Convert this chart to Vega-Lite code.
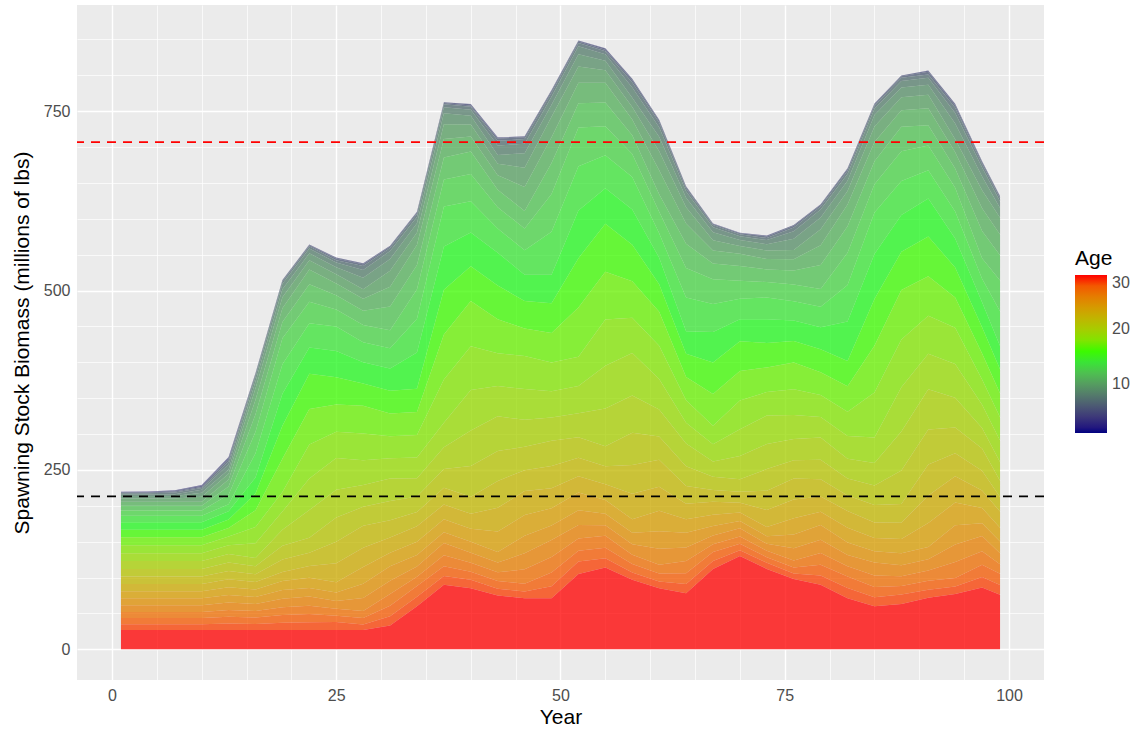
{
"$schema": "https://vega.github.io/schema/vega-lite/v6.json",
"width": 967, "height": 675,
"autosize": {"type": "none"},
"padding": {"left": 77, "top": 5, "right": 90, "bottom": 56},
"background": "white",
"config": {
 "view": {"fill": "#EBEBEB", "stroke": null},
 "font": "Liberation Sans",
 "axis": {"domain": false, "grid": true, "gridColor": "white", "tickSize": 4, "tickColor": "#333333", "labelFontSize": 16, "labelColor": "#4D4D4D", "titleFontSize": 21, "titleFontWeight": "normal", "titleColor": "black", "labelPadding": 3},
 "axisX": {"values": [0,12.5,25,37.5,50,62.5,75,87.5,100], "labelExpr": "datum.value % 25 === 0 ? format(datum.value, 'd') : ''", "gridWidth": {"condition": {"test": "datum.value % 25 === 0", "value": 1.4}, "value": 0.7}, "tickOpacity": {"condition": {"test": "datum.value % 25 === 0", "value": 1}, "value": 0}, "titlePadding": 3},
 "axisY": {"values": [0,125,250,375,500,625,750,875], "labelExpr": "datum.value % 250 === 0 ? format(datum.value, 'd') : ''", "gridWidth": {"condition": {"test": "datum.value % 250 === 0", "value": 1.4}, "value": 0.7}, "tickOpacity": {"condition": {"test": "datum.value % 250 === 0", "value": 1}, "value": 0}, "titlePadding": 11}
},
"datasets": {"ssb": [
{"yr":1,"age":1,"ssb":0},{"yr":1,"age":2,"ssb":0},{"yr":1,"age":3,"ssb":0.1},{"yr":1,"age":4,"ssb":0.3},{"yr":1,"age":5,"ssb":0.6},{"yr":1,"age":6,"ssb":1},{"yr":1,"age":7,"ssb":1.5},{"yr":1,"age":8,"ssb":2.5},{"yr":1,"age":9,"ssb":3.5},{"yr":1,"age":10,"ssb":4.5},{"yr":1,"age":11,"ssb":5.5},{"yr":1,"age":12,"ssb":6.5},{"yr":1,"age":13,"ssb":7.5},{"yr":1,"age":14,"ssb":9},{"yr":1,"age":15,"ssb":10.5},{"yr":1,"age":16,"ssb":10.5},{"yr":1,"age":17,"ssb":11},{"yr":1,"age":18,"ssb":11},{"yr":1,"age":19,"ssb":11},{"yr":1,"age":20,"ssb":11},{"yr":1,"age":21,"ssb":10.5},{"yr":1,"age":22,"ssb":10.5},{"yr":1,"age":23,"ssb":10},{"yr":1,"age":24,"ssb":10},{"yr":1,"age":25,"ssb":9.5},{"yr":1,"age":26,"ssb":9.5},{"yr":1,"age":27,"ssb":8.5},{"yr":1,"age":28,"ssb":8.5},{"yr":1,"age":29,"ssb":8},{"yr":1,"age":30,"ssb":27},
{"yr":4,"age":1,"ssb":0},{"yr":4,"age":2,"ssb":0},{"yr":4,"age":3,"ssb":0.2},{"yr":4,"age":4,"ssb":0.5},{"yr":4,"age":5,"ssb":0.6},{"yr":4,"age":6,"ssb":1},{"yr":4,"age":7,"ssb":1.5},{"yr":4,"age":8,"ssb":2.5},{"yr":4,"age":9,"ssb":3.5},{"yr":4,"age":10,"ssb":4.5},{"yr":4,"age":11,"ssb":5.5},{"yr":4,"age":12,"ssb":6.5},{"yr":4,"age":13,"ssb":7.5},{"yr":4,"age":14,"ssb":9},{"yr":4,"age":15,"ssb":10.5},{"yr":4,"age":16,"ssb":10.5},{"yr":4,"age":17,"ssb":11},{"yr":4,"age":18,"ssb":11},{"yr":4,"age":19,"ssb":11},{"yr":4,"age":20,"ssb":11},{"yr":4,"age":21,"ssb":10.5},{"yr":4,"age":22,"ssb":10.5},{"yr":4,"age":23,"ssb":10},{"yr":4,"age":24,"ssb":10},{"yr":4,"age":25,"ssb":9.5},{"yr":4,"age":26,"ssb":9.5},{"yr":4,"age":27,"ssb":8.5},{"yr":4,"age":28,"ssb":8.5},{"yr":4,"age":29,"ssb":8},{"yr":4,"age":30,"ssb":27},
{"yr":7,"age":1,"ssb":0},{"yr":7,"age":2,"ssb":0},{"yr":7,"age":3,"ssb":0.2},{"yr":7,"age":4,"ssb":0.5},{"yr":7,"age":5,"ssb":1.0},{"yr":7,"age":6,"ssb":1.6},{"yr":7,"age":7,"ssb":2.4},{"yr":7,"age":8,"ssb":2.5},{"yr":7,"age":9,"ssb":3.5},{"yr":7,"age":10,"ssb":4.5},{"yr":7,"age":11,"ssb":5.5},{"yr":7,"age":12,"ssb":6.5},{"yr":7,"age":13,"ssb":7.5},{"yr":7,"age":14,"ssb":9},{"yr":7,"age":15,"ssb":10.5},{"yr":7,"age":16,"ssb":10.5},{"yr":7,"age":17,"ssb":11},{"yr":7,"age":18,"ssb":11},{"yr":7,"age":19,"ssb":11},{"yr":7,"age":20,"ssb":11},{"yr":7,"age":21,"ssb":10.5},{"yr":7,"age":22,"ssb":10.5},{"yr":7,"age":23,"ssb":10},{"yr":7,"age":24,"ssb":10},{"yr":7,"age":25,"ssb":9.5},{"yr":7,"age":26,"ssb":9.5},{"yr":7,"age":27,"ssb":8.5},{"yr":7,"age":28,"ssb":8.5},{"yr":7,"age":29,"ssb":8},{"yr":7,"age":30,"ssb":27},
{"yr":10,"age":1,"ssb":0},{"yr":10,"age":2,"ssb":0},{"yr":10,"age":3,"ssb":0.3},{"yr":10,"age":4,"ssb":0.8},{"yr":10,"age":5,"ssb":1.6},{"yr":10,"age":6,"ssb":1.6},{"yr":10,"age":7,"ssb":2.4},{"yr":10,"age":8,"ssb":4.0},{"yr":10,"age":9,"ssb":5.6},{"yr":10,"age":10,"ssb":7.2},{"yr":10,"age":11,"ssb":5.5},{"yr":10,"age":12,"ssb":6.5},{"yr":10,"age":13,"ssb":7.5},{"yr":10,"age":14,"ssb":9},{"yr":10,"age":15,"ssb":10.5},{"yr":10,"age":16,"ssb":10.5},{"yr":10,"age":17,"ssb":11},{"yr":10,"age":18,"ssb":11},{"yr":10,"age":19,"ssb":11},{"yr":10,"age":20,"ssb":11},{"yr":10,"age":21,"ssb":10.5},{"yr":10,"age":22,"ssb":10.5},{"yr":10,"age":23,"ssb":10},{"yr":10,"age":24,"ssb":10},{"yr":10,"age":25,"ssb":9.5},{"yr":10,"age":26,"ssb":9.5},{"yr":10,"age":27,"ssb":8.5},{"yr":10,"age":28,"ssb":8.5},{"yr":10,"age":29,"ssb":8},{"yr":10,"age":30,"ssb":27},
{"yr":13,"age":1,"ssb":0},{"yr":13,"age":2,"ssb":0},{"yr":13,"age":3,"ssb":0.2},{"yr":13,"age":4,"ssb":0.9},{"yr":13,"age":5,"ssb":1.7},{"yr":13,"age":6,"ssb":2.9},{"yr":13,"age":7,"ssb":4.3},{"yr":13,"age":8,"ssb":7.2},{"yr":13,"age":9,"ssb":6.2},{"yr":13,"age":10,"ssb":7.9},{"yr":13,"age":11,"ssb":9.7},{"yr":13,"age":12,"ssb":11.4},{"yr":13,"age":13,"ssb":13.2},{"yr":13,"age":14,"ssb":9.9},{"yr":13,"age":15,"ssb":11.6},{"yr":13,"age":16,"ssb":11.6},{"yr":13,"age":17,"ssb":12.1},{"yr":13,"age":18,"ssb":12.1},{"yr":13,"age":19,"ssb":12.1},{"yr":13,"age":20,"ssb":12.1},{"yr":13,"age":21,"ssb":11.6},{"yr":13,"age":22,"ssb":11.6},{"yr":13,"age":23,"ssb":11.0},{"yr":13,"age":24,"ssb":11.0},{"yr":13,"age":25,"ssb":10.5},{"yr":13,"age":26,"ssb":10.5},{"yr":13,"age":27,"ssb":9.4},{"yr":13,"age":28,"ssb":9.4},{"yr":13,"age":29,"ssb":8.8},{"yr":13,"age":30,"ssb":27},
{"yr":16,"age":1,"ssb":0},{"yr":16,"age":2,"ssb":0},{"yr":16,"age":3,"ssb":0},{"yr":16,"age":4,"ssb":0.1},{"yr":16,"age":5,"ssb":0.7},{"yr":16,"age":6,"ssb":1.5},{"yr":16,"age":7,"ssb":3.2},{"yr":16,"age":8,"ssb":6.2},{"yr":16,"age":9,"ssb":9.4},{"yr":16,"age":10,"ssb":16.2},{"yr":16,"age":11,"ssb":20.3},{"yr":16,"age":12,"ssb":24.4},{"yr":16,"age":13,"ssb":29.8},{"yr":16,"age":14,"ssb":33.8},{"yr":16,"age":15,"ssb":22.5},{"yr":16,"age":16,"ssb":23.3},{"yr":16,"age":17,"ssb":23.3},{"yr":16,"age":18,"ssb":22.5},{"yr":16,"age":19,"ssb":20.8},{"yr":16,"age":20,"ssb":11.5},{"yr":16,"age":21,"ssb":10.9},{"yr":16,"age":22,"ssb":10.9},{"yr":16,"age":23,"ssb":10.4},{"yr":16,"age":24,"ssb":10.4},{"yr":16,"age":25,"ssb":9.9},{"yr":16,"age":26,"ssb":9.9},{"yr":16,"age":27,"ssb":8.9},{"yr":16,"age":28,"ssb":8.9},{"yr":16,"age":29,"ssb":8.4},{"yr":16,"age":30,"ssb":27},
{"yr":19,"age":1,"ssb":0},{"yr":19,"age":2,"ssb":0},{"yr":19,"age":3,"ssb":0},{"yr":19,"age":4,"ssb":0.2},{"yr":19,"age":5,"ssb":0.6},{"yr":19,"age":6,"ssb":1.5},{"yr":19,"age":7,"ssb":3.0},{"yr":19,"age":8,"ssb":7.6},{"yr":19,"age":9,"ssb":11.4},{"yr":19,"age":10,"ssb":15.2},{"yr":19,"age":11,"ssb":19.0},{"yr":19,"age":12,"ssb":22.8},{"yr":19,"age":13,"ssb":36.2},{"yr":19,"age":14,"ssb":41.2},{"yr":19,"age":15,"ssb":44.5},{"yr":19,"age":16,"ssb":46.1},{"yr":19,"age":17,"ssb":46.1},{"yr":19,"age":18,"ssb":27.4},{"yr":19,"age":19,"ssb":25.4},{"yr":19,"age":20,"ssb":22.3},{"yr":19,"age":21,"ssb":19.3},{"yr":19,"age":22,"ssb":17.3},{"yr":19,"age":23,"ssb":12.6},{"yr":19,"age":24,"ssb":12.6},{"yr":19,"age":25,"ssb":12.0},{"yr":19,"age":26,"ssb":12.0},{"yr":19,"age":27,"ssb":10.7},{"yr":19,"age":28,"ssb":10.7},{"yr":19,"age":29,"ssb":10.1},{"yr":19,"age":30,"ssb":27},
{"yr":22,"age":1,"ssb":0},{"yr":22,"age":2,"ssb":0},{"yr":22,"age":3,"ssb":0},{"yr":22,"age":4,"ssb":0.2},{"yr":22,"age":5,"ssb":0.6},{"yr":22,"age":6,"ssb":1.5},{"yr":22,"age":7,"ssb":3.3},{"yr":22,"age":8,"ssb":6.5},{"yr":22,"age":9,"ssb":9.8},{"yr":22,"age":10,"ssb":13.0},{"yr":22,"age":11,"ssb":20.4},{"yr":22,"age":12,"ssb":24.4},{"yr":22,"age":13,"ssb":29.8},{"yr":22,"age":14,"ssb":33.9},{"yr":22,"age":15,"ssb":36.6},{"yr":22,"age":16,"ssb":49.3},{"yr":22,"age":17,"ssb":49.3},{"yr":22,"age":18,"ssb":47.5},{"yr":22,"age":19,"ssb":44.0},{"yr":22,"age":20,"ssb":38.7},{"yr":22,"age":21,"ssb":20.7},{"yr":22,"age":22,"ssb":18.5},{"yr":22,"age":23,"ssb":16.3},{"yr":22,"age":24,"ssb":14.2},{"yr":22,"age":25,"ssb":12.0},{"yr":22,"age":26,"ssb":12.8},{"yr":22,"age":27,"ssb":11.5},{"yr":22,"age":28,"ssb":11.5},{"yr":22,"age":29,"ssb":10.8},{"yr":22,"age":30,"ssb":27},
{"yr":25,"age":1,"ssb":0},{"yr":25,"age":2,"ssb":0},{"yr":25,"age":3,"ssb":0},{"yr":25,"age":4,"ssb":0.3},{"yr":25,"age":5,"ssb":1.0},{"yr":25,"age":6,"ssb":2.4},{"yr":25,"age":7,"ssb":3.3},{"yr":25,"age":8,"ssb":6.5},{"yr":25,"age":9,"ssb":9.8},{"yr":25,"age":10,"ssb":13.0},{"yr":25,"age":11,"ssb":16.4},{"yr":25,"age":12,"ssb":19.6},{"yr":25,"age":13,"ssb":23.9},{"yr":25,"age":14,"ssb":33.9},{"yr":25,"age":15,"ssb":36.6},{"yr":25,"age":16,"ssb":38.0},{"yr":25,"age":17,"ssb":38.0},{"yr":25,"age":18,"ssb":36.6},{"yr":25,"age":19,"ssb":44.2},{"yr":25,"age":20,"ssb":38.9},{"yr":25,"age":21,"ssb":33.6},{"yr":25,"age":22,"ssb":30.1},{"yr":25,"age":23,"ssb":26.5},{"yr":25,"age":24,"ssb":14.1},{"yr":25,"age":25,"ssb":12.0},{"yr":25,"age":26,"ssb":10.9},{"yr":25,"age":27,"ssb":9.8},{"yr":25,"age":28,"ssb":8.7},{"yr":25,"age":29,"ssb":10.9},{"yr":25,"age":30,"ssb":27},
{"yr":28,"age":1,"ssb":0},{"yr":28,"age":2,"ssb":0},{"yr":28,"age":3,"ssb":0},{"yr":28,"age":4,"ssb":0.3},{"yr":28,"age":5,"ssb":1.1},{"yr":28,"age":6,"ssb":2.5},{"yr":28,"age":7,"ssb":5.4},{"yr":28,"age":8,"ssb":10.8},{"yr":28,"age":9,"ssb":16.1},{"yr":28,"age":10,"ssb":13.2},{"yr":28,"age":11,"ssb":16.6},{"yr":28,"age":12,"ssb":19.9},{"yr":28,"age":13,"ssb":24.3},{"yr":28,"age":14,"ssb":27.6},{"yr":28,"age":15,"ssb":29.8},{"yr":28,"age":16,"ssb":31.0},{"yr":28,"age":17,"ssb":38.6},{"yr":28,"age":18,"ssb":37.3},{"yr":28,"age":19,"ssb":34.6},{"yr":28,"age":20,"ssb":30.4},{"yr":28,"age":21,"ssb":26.3},{"yr":28,"age":22,"ssb":30.5},{"yr":28,"age":23,"ssb":27.0},{"yr":28,"age":24,"ssb":23.4},{"yr":28,"age":25,"ssb":19.8},{"yr":28,"age":26,"ssb":18.0},{"yr":28,"age":27,"ssb":9.9},{"yr":28,"age":28,"ssb":8.9},{"yr":28,"age":29,"ssb":7.7},{"yr":28,"age":30,"ssb":27},
{"yr":31,"age":1,"ssb":0},{"yr":31,"age":2,"ssb":0},{"yr":31,"age":3,"ssb":0},{"yr":31,"age":4,"ssb":0.3},{"yr":31,"age":5,"ssb":0.9},{"yr":31,"age":6,"ssb":2.0},{"yr":31,"age":7,"ssb":4.2},{"yr":31,"age":8,"ssb":11.1},{"yr":31,"age":9,"ssb":16.5},{"yr":31,"age":10,"ssb":22.1},{"yr":31,"age":11,"ssb":27.6},{"yr":31,"age":12,"ssb":33.2},{"yr":31,"age":13,"ssb":25.0},{"yr":31,"age":14,"ssb":28.4},{"yr":31,"age":15,"ssb":30.7},{"yr":31,"age":16,"ssb":31.7},{"yr":31,"age":17,"ssb":31.7},{"yr":31,"age":18,"ssb":30.7},{"yr":31,"age":19,"ssb":28.4},{"yr":31,"age":20,"ssb":31.3},{"yr":31,"age":21,"ssb":26.9},{"yr":31,"age":22,"ssb":24.1},{"yr":31,"age":23,"ssb":21.3},{"yr":31,"age":24,"ssb":18.5},{"yr":31,"age":25,"ssb":20.3},{"yr":31,"age":26,"ssb":18.5},{"yr":31,"age":27,"ssb":16.5},{"yr":31,"age":28,"ssb":14.7},{"yr":31,"age":29,"ssb":12.9},{"yr":31,"age":30,"ssb":33},
{"yr":34,"age":1,"ssb":0},{"yr":34,"age":2,"ssb":0},{"yr":34,"age":3,"ssb":0},{"yr":34,"age":4,"ssb":0.2},{"yr":34,"age":5,"ssb":0.7},{"yr":34,"age":6,"ssb":2.0},{"yr":34,"age":7,"ssb":4.3},{"yr":34,"age":8,"ssb":8.7},{"yr":34,"age":9,"ssb":12.9},{"yr":34,"age":10,"ssb":17.3},{"yr":34,"age":11,"ssb":28.1},{"yr":34,"age":12,"ssb":33.7},{"yr":34,"age":13,"ssb":41.2},{"yr":34,"age":14,"ssb":46.9},{"yr":34,"age":15,"ssb":50.6},{"yr":34,"age":16,"ssb":32.3},{"yr":34,"age":17,"ssb":32.3},{"yr":34,"age":18,"ssb":31.2},{"yr":34,"age":19,"ssb":28.9},{"yr":34,"age":20,"ssb":25.4},{"yr":34,"age":21,"ssb":21.9},{"yr":34,"age":22,"ssb":19.6},{"yr":34,"age":23,"ssb":21.6},{"yr":34,"age":24,"ssb":18.7},{"yr":34,"age":25,"ssb":15.9},{"yr":34,"age":26,"ssb":14.4},{"yr":34,"age":27,"ssb":12.9},{"yr":34,"age":28,"ssb":15.0},{"yr":34,"age":29,"ssb":13.1},{"yr":34,"age":30,"ssb":60},
{"yr":37,"age":1,"ssb":0},{"yr":37,"age":2,"ssb":0},{"yr":37,"age":3,"ssb":0},{"yr":37,"age":4,"ssb":0.3},{"yr":37,"age":5,"ssb":0.8},{"yr":37,"age":6,"ssb":1.9},{"yr":37,"age":7,"ssb":4.1},{"yr":37,"age":8,"ssb":8.3},{"yr":37,"age":9,"ssb":15.4},{"yr":37,"age":10,"ssb":20.5},{"yr":37,"age":11,"ssb":25.7},{"yr":37,"age":12,"ssb":30.9},{"yr":37,"age":13,"ssb":37.6},{"yr":37,"age":14,"ssb":55.8},{"yr":37,"age":15,"ssb":60.3},{"yr":37,"age":16,"ssb":62.4},{"yr":37,"age":17,"ssb":62.4},{"yr":37,"age":18,"ssb":60.3},{"yr":37,"age":19,"ssb":34.4},{"yr":37,"age":20,"ssb":30.3},{"yr":37,"age":21,"ssb":26.1},{"yr":37,"age":22,"ssb":23.4},{"yr":37,"age":23,"ssb":20.6},{"yr":37,"age":24,"ssb":17.8},{"yr":37,"age":25,"ssb":15.1},{"yr":37,"age":26,"ssb":17.1},{"yr":37,"age":27,"ssb":15.4},{"yr":37,"age":28,"ssb":13.7},{"yr":37,"age":29,"ssb":12.0},{"yr":37,"age":30,"ssb":90},
{"yr":40,"age":1,"ssb":0},{"yr":40,"age":2,"ssb":0},{"yr":40,"age":3,"ssb":0},{"yr":40,"age":4,"ssb":0.4},{"yr":40,"age":5,"ssb":1.4},{"yr":40,"age":6,"ssb":1.9},{"yr":40,"age":7,"ssb":4.1},{"yr":40,"age":8,"ssb":8.3},{"yr":40,"age":9,"ssb":12.5},{"yr":40,"age":10,"ssb":16.7},{"yr":40,"age":11,"ssb":20.8},{"yr":40,"age":12,"ssb":31.3},{"yr":40,"age":13,"ssb":38.2},{"yr":40,"age":14,"ssb":43.4},{"yr":40,"age":15,"ssb":46.9},{"yr":40,"age":16,"ssb":48.7},{"yr":40,"age":17,"ssb":63.1},{"yr":40,"age":18,"ssb":60.8},{"yr":40,"age":19,"ssb":56.4},{"yr":40,"age":20,"ssb":49.6},{"yr":40,"age":21,"ssb":42.9},{"yr":40,"age":22,"ssb":23.7},{"yr":40,"age":23,"ssb":20.8},{"yr":40,"age":24,"ssb":18.1},{"yr":40,"age":25,"ssb":15.3},{"yr":40,"age":26,"ssb":13.9},{"yr":40,"age":27,"ssb":12.5},{"yr":40,"age":28,"ssb":11.1},{"yr":40,"age":29,"ssb":12.1},{"yr":40,"age":30,"ssb":85},
{"yr":43,"age":1,"ssb":0},{"yr":43,"age":2,"ssb":0},{"yr":43,"age":3,"ssb":0},{"yr":43,"age":4,"ssb":0.4},{"yr":43,"age":5,"ssb":1.3},{"yr":43,"age":6,"ssb":3.1},{"yr":43,"age":7,"ssb":6.5},{"yr":43,"age":8,"ssb":13.2},{"yr":43,"age":9,"ssb":12.1},{"yr":43,"age":10,"ssb":16.2},{"yr":43,"age":11,"ssb":20.2},{"yr":43,"age":12,"ssb":24.3},{"yr":43,"age":13,"ssb":29.7},{"yr":43,"age":14,"ssb":33.7},{"yr":43,"age":15,"ssb":45.6},{"yr":43,"age":16,"ssb":47.3},{"yr":43,"age":17,"ssb":47.3},{"yr":43,"age":18,"ssb":45.6},{"yr":43,"age":19,"ssb":42.3},{"yr":43,"age":20,"ssb":48.3},{"yr":43,"age":21,"ssb":41.8},{"yr":43,"age":22,"ssb":37.4},{"yr":43,"age":23,"ssb":32.9},{"yr":43,"age":24,"ssb":28.6},{"yr":43,"age":25,"ssb":14.9},{"yr":43,"age":26,"ssb":13.5},{"yr":43,"age":27,"ssb":12.1},{"yr":43,"age":28,"ssb":10.8},{"yr":43,"age":29,"ssb":9.4},{"yr":43,"age":30,"ssb":75},
{"yr":46,"age":1,"ssb":0},{"yr":46,"age":2,"ssb":0},{"yr":46,"age":3,"ssb":0},{"yr":46,"age":4,"ssb":0.4},{"yr":46,"age":5,"ssb":1.0},{"yr":46,"age":6,"ssb":2.4},{"yr":46,"age":7,"ssb":6.7},{"yr":46,"age":8,"ssb":13.3},{"yr":46,"age":9,"ssb":20.1},{"yr":46,"age":10,"ssb":26.7},{"yr":46,"age":11,"ssb":33.4},{"yr":46,"age":12,"ssb":24.6},{"yr":46,"age":13,"ssb":30.1},{"yr":46,"age":14,"ssb":34.1},{"yr":46,"age":15,"ssb":36.9},{"yr":46,"age":16,"ssb":38.2},{"yr":46,"age":17,"ssb":38.2},{"yr":46,"age":18,"ssb":46.2},{"yr":46,"age":19,"ssb":42.8},{"yr":46,"age":20,"ssb":37.7},{"yr":46,"age":21,"ssb":32.5},{"yr":46,"age":22,"ssb":29.1},{"yr":46,"age":23,"ssb":33.4},{"yr":46,"age":24,"ssb":29.0},{"yr":46,"age":25,"ssb":24.5},{"yr":46,"age":26,"ssb":22.2},{"yr":46,"age":27,"ssb":20.1},{"yr":46,"age":28,"ssb":10.9},{"yr":46,"age":29,"ssb":9.5},{"yr":46,"age":30,"ssb":71},
{"yr":49,"age":1,"ssb":0},{"yr":49,"age":2,"ssb":0},{"yr":49,"age":3,"ssb":0},{"yr":49,"age":4,"ssb":0.3},{"yr":49,"age":5,"ssb":1.1},{"yr":49,"age":6,"ssb":2.6},{"yr":49,"age":7,"ssb":5.5},{"yr":49,"age":8,"ssb":11.1},{"yr":49,"age":9,"ssb":16.6},{"yr":49,"age":10,"ssb":28.7},{"yr":49,"age":11,"ssb":36.0},{"yr":49,"age":12,"ssb":43.1},{"yr":49,"age":13,"ssb":52.7},{"yr":49,"age":14,"ssb":59.9},{"yr":49,"age":15,"ssb":39.8},{"yr":49,"age":16,"ssb":41.3},{"yr":49,"age":17,"ssb":41.3},{"yr":49,"age":18,"ssb":39.8},{"yr":49,"age":19,"ssb":36.8},{"yr":49,"age":20,"ssb":32.4},{"yr":49,"age":21,"ssb":35.0},{"yr":49,"age":22,"ssb":31.3},{"yr":49,"age":23,"ssb":27.7},{"yr":49,"age":24,"ssb":23.9},{"yr":49,"age":25,"ssb":20.2},{"yr":49,"age":26,"ssb":23.9},{"yr":49,"age":27,"ssb":21.6},{"yr":49,"age":28,"ssb":19.2},{"yr":49,"age":29,"ssb":16.8},{"yr":49,"age":30,"ssb":71},
{"yr":52,"age":1,"ssb":0},{"yr":52,"age":2,"ssb":0},{"yr":52,"age":3,"ssb":0},{"yr":52,"age":4,"ssb":0.3},{"yr":52,"age":5,"ssb":0.9},{"yr":52,"age":6,"ssb":2.2},{"yr":52,"age":7,"ssb":4.5},{"yr":52,"age":8,"ssb":11.3},{"yr":52,"age":9,"ssb":17.0},{"yr":52,"age":10,"ssb":22.7},{"yr":52,"age":11,"ssb":28.3},{"yr":52,"age":12,"ssb":34.0},{"yr":52,"age":13,"ssb":54.1},{"yr":52,"age":14,"ssb":61.5},{"yr":52,"age":15,"ssb":66.4},{"yr":52,"age":16,"ssb":68.8},{"yr":52,"age":17,"ssb":68.8},{"yr":52,"age":18,"ssb":40.8},{"yr":52,"age":19,"ssb":37.9},{"yr":52,"age":20,"ssb":33.3},{"yr":52,"age":21,"ssb":28.7},{"yr":52,"age":22,"ssb":25.8},{"yr":52,"age":23,"ssb":22.7},{"yr":52,"age":24,"ssb":24.5},{"yr":52,"age":25,"ssb":20.7},{"yr":52,"age":26,"ssb":18.9},{"yr":52,"age":27,"ssb":17.0},{"yr":52,"age":28,"ssb":15.1},{"yr":52,"age":29,"ssb":17.2},{"yr":52,"age":30,"ssb":105},
{"yr":55,"age":1,"ssb":0},{"yr":55,"age":2,"ssb":0},{"yr":55,"age":3,"ssb":0},{"yr":55,"age":4,"ssb":0.5},{"yr":55,"age":5,"ssb":1.5},{"yr":55,"age":6,"ssb":2.1},{"yr":55,"age":7,"ssb":4.4},{"yr":55,"age":8,"ssb":8.8},{"yr":55,"age":9,"ssb":13.2},{"yr":55,"age":10,"ssb":17.6},{"yr":55,"age":11,"ssb":27.6},{"yr":55,"age":12,"ssb":33.1},{"yr":55,"age":13,"ssb":40.3},{"yr":55,"age":14,"ssb":45.9},{"yr":55,"age":15,"ssb":49.6},{"yr":55,"age":16,"ssb":66.8},{"yr":55,"age":17,"ssb":66.8},{"yr":55,"age":18,"ssb":64.4},{"yr":55,"age":19,"ssb":59.6},{"yr":55,"age":20,"ssb":52.5},{"yr":55,"age":21,"ssb":27.9},{"yr":55,"age":22,"ssb":25.0},{"yr":55,"age":23,"ssb":22.0},{"yr":55,"age":24,"ssb":19.1},{"yr":55,"age":25,"ssb":16.2},{"yr":55,"age":26,"ssb":14.7},{"yr":55,"age":27,"ssb":16.5},{"yr":55,"age":28,"ssb":14.7},{"yr":55,"age":29,"ssb":12.9},{"yr":55,"age":30,"ssb":114},
{"yr":58,"age":1,"ssb":0},{"yr":58,"age":2,"ssb":0},{"yr":58,"age":3,"ssb":0},{"yr":58,"age":4,"ssb":0.4},{"yr":58,"age":5,"ssb":1.4},{"yr":58,"age":6,"ssb":3.3},{"yr":58,"age":7,"ssb":7.1},{"yr":58,"age":8,"ssb":14.2},{"yr":58,"age":9,"ssb":13.0},{"yr":58,"age":10,"ssb":17.4},{"yr":58,"age":11,"ssb":21.8},{"yr":58,"age":12,"ssb":26.2},{"yr":58,"age":13,"ssb":32.0},{"yr":58,"age":14,"ssb":45.4},{"yr":58,"age":15,"ssb":49.1},{"yr":58,"age":16,"ssb":50.9},{"yr":58,"age":17,"ssb":50.9},{"yr":58,"age":18,"ssb":49.1},{"yr":58,"age":19,"ssb":59.1},{"yr":58,"age":20,"ssb":52.0},{"yr":58,"age":21,"ssb":44.9},{"yr":58,"age":22,"ssb":40.2},{"yr":58,"age":23,"ssb":35.5},{"yr":58,"age":24,"ssb":18.9},{"yr":58,"age":25,"ssb":16.0},{"yr":58,"age":26,"ssb":14.5},{"yr":58,"age":27,"ssb":13.0},{"yr":58,"age":28,"ssb":11.7},{"yr":58,"age":29,"ssb":10.2},{"yr":58,"age":30,"ssb":97},
{"yr":61,"age":1,"ssb":0},{"yr":61,"age":2,"ssb":0},{"yr":61,"age":3,"ssb":0},{"yr":61,"age":4,"ssb":0.3},{"yr":61,"age":5,"ssb":1.0},{"yr":61,"age":6,"ssb":2.4},{"yr":61,"age":7,"ssb":6.7},{"yr":61,"age":8,"ssb":13.4},{"yr":61,"age":9,"ssb":19.9},{"yr":61,"age":10,"ssb":26.6},{"yr":61,"age":11,"ssb":33.3},{"yr":61,"age":12,"ssb":24.5},{"yr":61,"age":13,"ssb":30.1},{"yr":61,"age":14,"ssb":34.1},{"yr":61,"age":15,"ssb":36.9},{"yr":61,"age":16,"ssb":38.2},{"yr":61,"age":17,"ssb":47.7},{"yr":61,"age":18,"ssb":46.1},{"yr":61,"age":19,"ssb":42.6},{"yr":61,"age":20,"ssb":37.6},{"yr":61,"age":21,"ssb":32.4},{"yr":61,"age":22,"ssb":37.7},{"yr":61,"age":23,"ssb":33.3},{"yr":61,"age":24,"ssb":28.8},{"yr":61,"age":25,"ssb":24.4},{"yr":61,"age":26,"ssb":22.2},{"yr":61,"age":27,"ssb":12.3},{"yr":61,"age":28,"ssb":10.9},{"yr":61,"age":29,"ssb":9.6},{"yr":61,"age":30,"ssb":85},
{"yr":64,"age":1,"ssb":0},{"yr":64,"age":2,"ssb":0},{"yr":64,"age":3,"ssb":0},{"yr":64,"age":4,"ssb":0.2},{"yr":64,"age":5,"ssb":0.8},{"yr":64,"age":6,"ssb":2.0},{"yr":64,"age":7,"ssb":4.4},{"yr":64,"age":8,"ssb":8.7},{"yr":64,"age":9,"ssb":13.0},{"yr":64,"age":10,"ssb":22.6},{"yr":64,"age":11,"ssb":28.2},{"yr":64,"age":12,"ssb":33.8},{"yr":64,"age":13,"ssb":41.3},{"yr":64,"age":14,"ssb":47.0},{"yr":64,"age":15,"ssb":31.3},{"yr":64,"age":16,"ssb":32.4},{"yr":64,"age":17,"ssb":32.4},{"yr":64,"age":18,"ssb":31.3},{"yr":64,"age":19,"ssb":28.9},{"yr":64,"age":20,"ssb":31.9},{"yr":64,"age":21,"ssb":27.5},{"yr":64,"age":22,"ssb":24.6},{"yr":64,"age":23,"ssb":21.7},{"yr":64,"age":24,"ssb":18.8},{"yr":64,"age":25,"ssb":20.7},{"yr":64,"age":26,"ssb":18.8},{"yr":64,"age":27,"ssb":16.9},{"yr":64,"age":28,"ssb":15.0},{"yr":64,"age":29,"ssb":13.1},{"yr":64,"age":30,"ssb":78},
{"yr":67,"age":1,"ssb":0},{"yr":67,"age":2,"ssb":0},{"yr":67,"age":3,"ssb":0},{"yr":67,"age":4,"ssb":0.2},{"yr":67,"age":5,"ssb":0.5},{"yr":67,"age":6,"ssb":1.4},{"yr":67,"age":7,"ssb":2.9},{"yr":67,"age":8,"ssb":7.3},{"yr":67,"age":9,"ssb":10.9},{"yr":67,"age":10,"ssb":14.5},{"yr":67,"age":11,"ssb":18.1},{"yr":67,"age":12,"ssb":21.7},{"yr":67,"age":13,"ssb":34.5},{"yr":67,"age":14,"ssb":39.3},{"yr":67,"age":15,"ssb":42.4},{"yr":67,"age":16,"ssb":44.0},{"yr":67,"age":17,"ssb":44.0},{"yr":67,"age":18,"ssb":26.0},{"yr":67,"age":19,"ssb":24.1},{"yr":67,"age":20,"ssb":21.2},{"yr":67,"age":21,"ssb":18.4},{"yr":67,"age":22,"ssb":16.4},{"yr":67,"age":23,"ssb":18.1},{"yr":67,"age":24,"ssb":15.7},{"yr":67,"age":25,"ssb":13.2},{"yr":67,"age":26,"ssb":12.1},{"yr":67,"age":27,"ssb":10.9},{"yr":67,"age":28,"ssb":12.6},{"yr":67,"age":29,"ssb":11.0},{"yr":67,"age":30,"ssb":112},
{"yr":70,"age":1,"ssb":0},{"yr":70,"age":2,"ssb":0},{"yr":70,"age":3,"ssb":0},{"yr":70,"age":4,"ssb":0.2},{"yr":70,"age":5,"ssb":0.6},{"yr":70,"age":6,"ssb":1.3},{"yr":70,"age":7,"ssb":2.7},{"yr":70,"age":8,"ssb":5.4},{"yr":70,"age":9,"ssb":8.2},{"yr":70,"age":10,"ssb":10.9},{"yr":70,"age":11,"ssb":17.0},{"yr":70,"age":12,"ssb":20.5},{"yr":70,"age":13,"ssb":25.1},{"yr":70,"age":14,"ssb":28.5},{"yr":70,"age":15,"ssb":30.7},{"yr":70,"age":16,"ssb":41.4},{"yr":70,"age":17,"ssb":41.4},{"yr":70,"age":18,"ssb":40.0},{"yr":70,"age":19,"ssb":37.1},{"yr":70,"age":20,"ssb":32.6},{"yr":70,"age":21,"ssb":17.3},{"yr":70,"age":22,"ssb":15.5},{"yr":70,"age":23,"ssb":13.6},{"yr":70,"age":24,"ssb":11.8},{"yr":70,"age":25,"ssb":10.0},{"yr":70,"age":26,"ssb":11.4},{"yr":70,"age":27,"ssb":10.3},{"yr":70,"age":28,"ssb":9.1},{"yr":70,"age":29,"ssb":7.9},{"yr":70,"age":30,"ssb":130},
{"yr":73,"age":1,"ssb":0},{"yr":73,"age":2,"ssb":0},{"yr":73,"age":3,"ssb":0},{"yr":73,"age":4,"ssb":0.3},{"yr":73,"age":5,"ssb":0.9},{"yr":73,"age":6,"ssb":2.3},{"yr":73,"age":7,"ssb":2.9},{"yr":73,"age":8,"ssb":5.8},{"yr":73,"age":9,"ssb":8.8},{"yr":73,"age":10,"ssb":11.7},{"yr":73,"age":11,"ssb":14.6},{"yr":73,"age":12,"ssb":17.5},{"yr":73,"age":13,"ssb":21.5},{"yr":73,"age":14,"ssb":30.5},{"yr":73,"age":15,"ssb":32.9},{"yr":73,"age":16,"ssb":34.2},{"yr":73,"age":17,"ssb":34.2},{"yr":73,"age":18,"ssb":32.9},{"yr":73,"age":19,"ssb":39.6},{"yr":73,"age":20,"ssb":34.9},{"yr":73,"age":21,"ssb":30.1},{"yr":73,"age":22,"ssb":26.9},{"yr":73,"age":23,"ssb":23.8},{"yr":73,"age":24,"ssb":12.7},{"yr":73,"age":25,"ssb":10.7},{"yr":73,"age":26,"ssb":9.8},{"yr":73,"age":27,"ssb":8.8},{"yr":73,"age":28,"ssb":7.8},{"yr":73,"age":29,"ssb":8.6},{"yr":73,"age":30,"ssb":112},
{"yr":76,"age":1,"ssb":0},{"yr":76,"age":2,"ssb":0},{"yr":76,"age":3,"ssb":0},{"yr":76,"age":4,"ssb":0.3},{"yr":76,"age":5,"ssb":1.0},{"yr":76,"age":6,"ssb":2.4},{"yr":76,"age":7,"ssb":5.2},{"yr":76,"age":8,"ssb":10.4},{"yr":76,"age":9,"ssb":15.6},{"yr":76,"age":10,"ssb":12.8},{"yr":76,"age":11,"ssb":16.0},{"yr":76,"age":12,"ssb":19.2},{"yr":76,"age":13,"ssb":23.5},{"yr":76,"age":14,"ssb":26.7},{"yr":76,"age":15,"ssb":28.8},{"yr":76,"age":16,"ssb":29.9},{"yr":76,"age":17,"ssb":37.3},{"yr":76,"age":18,"ssb":36.0},{"yr":76,"age":19,"ssb":33.4},{"yr":76,"age":20,"ssb":29.4},{"yr":76,"age":21,"ssb":25.4},{"yr":76,"age":22,"ssb":29.5},{"yr":76,"age":23,"ssb":26.0},{"yr":76,"age":24,"ssb":22.6},{"yr":76,"age":25,"ssb":19.1},{"yr":76,"age":26,"ssb":17.3},{"yr":76,"age":27,"ssb":9.6},{"yr":76,"age":28,"ssb":8.6},{"yr":76,"age":29,"ssb":7.5},{"yr":76,"age":30,"ssb":98},
{"yr":79,"age":1,"ssb":0},{"yr":79,"age":2,"ssb":0},{"yr":79,"age":3,"ssb":0},{"yr":79,"age":4,"ssb":0.3},{"yr":79,"age":5,"ssb":0.9},{"yr":79,"age":6,"ssb":1.9},{"yr":79,"age":7,"ssb":4.2},{"yr":79,"age":8,"ssb":11.1},{"yr":79,"age":9,"ssb":16.6},{"yr":79,"age":10,"ssb":22.1},{"yr":79,"age":11,"ssb":27.7},{"yr":79,"age":12,"ssb":33.2},{"yr":79,"age":13,"ssb":25.0},{"yr":79,"age":14,"ssb":28.4},{"yr":79,"age":15,"ssb":30.7},{"yr":79,"age":16,"ssb":31.9},{"yr":79,"age":17,"ssb":31.9},{"yr":79,"age":18,"ssb":30.7},{"yr":79,"age":19,"ssb":28.4},{"yr":79,"age":20,"ssb":31.2},{"yr":79,"age":21,"ssb":27.0},{"yr":79,"age":22,"ssb":24.2},{"yr":79,"age":23,"ssb":21.3},{"yr":79,"age":24,"ssb":18.5},{"yr":79,"age":25,"ssb":20.3},{"yr":79,"age":26,"ssb":18.5},{"yr":79,"age":27,"ssb":16.6},{"yr":79,"age":28,"ssb":14.8},{"yr":79,"age":29,"ssb":12.9},{"yr":79,"age":30,"ssb":90},
{"yr":82,"age":1,"ssb":0},{"yr":82,"age":2,"ssb":0},{"yr":82,"age":3,"ssb":0},{"yr":82,"age":4,"ssb":0.3},{"yr":82,"age":5,"ssb":0.8},{"yr":82,"age":6,"ssb":2.2},{"yr":82,"age":7,"ssb":4.7},{"yr":82,"age":8,"ssb":9.4},{"yr":82,"age":9,"ssb":14.1},{"yr":82,"age":10,"ssb":18.8},{"yr":82,"age":11,"ssb":30.6},{"yr":82,"age":12,"ssb":36.7},{"yr":82,"age":13,"ssb":44.9},{"yr":82,"age":14,"ssb":51.0},{"yr":82,"age":15,"ssb":55.1},{"yr":82,"age":16,"ssb":35.3},{"yr":82,"age":17,"ssb":35.3},{"yr":82,"age":18,"ssb":34.0},{"yr":82,"age":19,"ssb":31.5},{"yr":82,"age":20,"ssb":27.6},{"yr":82,"age":21,"ssb":23.9},{"yr":82,"age":22,"ssb":21.4},{"yr":82,"age":23,"ssb":23.5},{"yr":82,"age":24,"ssb":20.5},{"yr":82,"age":25,"ssb":17.3},{"yr":82,"age":26,"ssb":15.8},{"yr":82,"age":27,"ssb":14.1},{"yr":82,"age":28,"ssb":16.3},{"yr":82,"age":29,"ssb":14.3},{"yr":82,"age":30,"ssb":71},
{"yr":85,"age":1,"ssb":0},{"yr":85,"age":2,"ssb":0},{"yr":85,"age":3,"ssb":0},{"yr":85,"age":4,"ssb":0.3},{"yr":85,"age":5,"ssb":0.9},{"yr":85,"age":6,"ssb":2.0},{"yr":85,"age":7,"ssb":4.3},{"yr":85,"age":8,"ssb":8.6},{"yr":85,"age":9,"ssb":16.1},{"yr":85,"age":10,"ssb":21.5},{"yr":85,"age":11,"ssb":26.8},{"yr":85,"age":12,"ssb":32.1},{"yr":85,"age":13,"ssb":39.3},{"yr":85,"age":14,"ssb":58.0},{"yr":85,"age":15,"ssb":62.7},{"yr":85,"age":16,"ssb":65.1},{"yr":85,"age":17,"ssb":65.1},{"yr":85,"age":18,"ssb":62.7},{"yr":85,"age":19,"ssb":35.7},{"yr":85,"age":20,"ssb":31.4},{"yr":85,"age":21,"ssb":27.2},{"yr":85,"age":22,"ssb":24.3},{"yr":85,"age":23,"ssb":21.5},{"yr":85,"age":24,"ssb":18.6},{"yr":85,"age":25,"ssb":15.8},{"yr":85,"age":26,"ssb":17.9},{"yr":85,"age":27,"ssb":16.1},{"yr":85,"age":28,"ssb":14.3},{"yr":85,"age":29,"ssb":12.5},{"yr":85,"age":30,"ssb":60},
{"yr":88,"age":1,"ssb":0},{"yr":88,"age":2,"ssb":0},{"yr":88,"age":3,"ssb":0},{"yr":88,"age":4,"ssb":0.3},{"yr":88,"age":5,"ssb":0.9},{"yr":88,"age":6,"ssb":2.1},{"yr":88,"age":7,"ssb":4.5},{"yr":88,"age":8,"ssb":9.1},{"yr":88,"age":9,"ssb":13.6},{"yr":88,"age":10,"ssb":18.2},{"yr":88,"age":11,"ssb":22.8},{"yr":88,"age":12,"ssb":34.1},{"yr":88,"age":13,"ssb":41.7},{"yr":88,"age":14,"ssb":47.4},{"yr":88,"age":15,"ssb":51.2},{"yr":88,"age":16,"ssb":53.1},{"yr":88,"age":17,"ssb":69.1},{"yr":88,"age":18,"ssb":66.6},{"yr":88,"age":19,"ssb":61.7},{"yr":88,"age":20,"ssb":54.3},{"yr":88,"age":21,"ssb":46.8},{"yr":88,"age":22,"ssb":25.9},{"yr":88,"age":23,"ssb":22.8},{"yr":88,"age":24,"ssb":19.8},{"yr":88,"age":25,"ssb":16.8},{"yr":88,"age":26,"ssb":15.2},{"yr":88,"age":27,"ssb":13.6},{"yr":88,"age":28,"ssb":12.1},{"yr":88,"age":29,"ssb":13.2},{"yr":88,"age":30,"ssb":63},
{"yr":91,"age":1,"ssb":0},{"yr":91,"age":2,"ssb":0},{"yr":91,"age":3,"ssb":0},{"yr":91,"age":4,"ssb":0.5},{"yr":91,"age":5,"ssb":1.5},{"yr":91,"age":6,"ssb":3.6},{"yr":91,"age":7,"ssb":4.7},{"yr":91,"age":8,"ssb":9.5},{"yr":91,"age":9,"ssb":14.1},{"yr":91,"age":10,"ssb":18.8},{"yr":91,"age":11,"ssb":23.6},{"yr":91,"age":12,"ssb":28.3},{"yr":91,"age":13,"ssb":34.5},{"yr":91,"age":14,"ssb":39.3},{"yr":91,"age":15,"ssb":53.2},{"yr":91,"age":16,"ssb":55.1},{"yr":91,"age":17,"ssb":55.1},{"yr":91,"age":18,"ssb":53.2},{"yr":91,"age":19,"ssb":49.3},{"yr":91,"age":20,"ssb":56.3},{"yr":91,"age":21,"ssb":48.5},{"yr":91,"age":22,"ssb":43.5},{"yr":91,"age":23,"ssb":38.3},{"yr":91,"age":24,"ssb":33.2},{"yr":91,"age":25,"ssb":17.3},{"yr":91,"age":26,"ssb":15.7},{"yr":91,"age":27,"ssb":14.1},{"yr":91,"age":28,"ssb":12.6},{"yr":91,"age":29,"ssb":11.0},{"yr":91,"age":30,"ssb":72},
{"yr":94,"age":1,"ssb":0},{"yr":94,"age":2,"ssb":0},{"yr":94,"age":3,"ssb":0},{"yr":94,"age":4,"ssb":0.3},{"yr":94,"age":5,"ssb":1.5},{"yr":94,"age":6,"ssb":3.5},{"yr":94,"age":7,"ssb":7.4},{"yr":94,"age":8,"ssb":14.7},{"yr":94,"age":9,"ssb":22.0},{"yr":94,"age":10,"ssb":18.1},{"yr":94,"age":11,"ssb":22.5},{"yr":94,"age":12,"ssb":27.0},{"yr":94,"age":13,"ssb":33.0},{"yr":94,"age":14,"ssb":37.5},{"yr":94,"age":15,"ssb":40.5},{"yr":94,"age":16,"ssb":42.0},{"yr":94,"age":17,"ssb":42.0},{"yr":94,"age":18,"ssb":50.7},{"yr":94,"age":19,"ssb":47.0},{"yr":94,"age":20,"ssb":41.4},{"yr":94,"age":21,"ssb":35.8},{"yr":94,"age":22,"ssb":32.0},{"yr":94,"age":23,"ssb":36.7},{"yr":94,"age":24,"ssb":31.7},{"yr":94,"age":25,"ssb":26.9},{"yr":94,"age":26,"ssb":24.5},{"yr":94,"age":27,"ssb":22.0},{"yr":94,"age":28,"ssb":12.0},{"yr":94,"age":29,"ssb":10.5},{"yr":94,"age":30,"ssb":77},
{"yr":97,"age":1,"ssb":0},{"yr":97,"age":2,"ssb":0},{"yr":97,"age":3,"ssb":0},{"yr":97,"age":4,"ssb":0.3},{"yr":97,"age":5,"ssb":1.0},{"yr":97,"age":6,"ssb":2.3},{"yr":97,"age":7,"ssb":4.9},{"yr":97,"age":8,"ssb":12.7},{"yr":97,"age":9,"ssb":19.0},{"yr":97,"age":10,"ssb":25.3},{"yr":97,"age":11,"ssb":31.7},{"yr":97,"age":12,"ssb":38.0},{"yr":97,"age":13,"ssb":28.6},{"yr":97,"age":14,"ssb":32.5},{"yr":97,"age":15,"ssb":35.1},{"yr":97,"age":16,"ssb":36.4},{"yr":97,"age":17,"ssb":36.4},{"yr":97,"age":18,"ssb":35.1},{"yr":97,"age":19,"ssb":32.5},{"yr":97,"age":20,"ssb":28.6},{"yr":97,"age":21,"ssb":30.9},{"yr":97,"age":22,"ssb":27.6},{"yr":97,"age":23,"ssb":24.4},{"yr":97,"age":24,"ssb":21.1},{"yr":97,"age":25,"ssb":17.9},{"yr":97,"age":26,"ssb":21.1},{"yr":97,"age":27,"ssb":19.0},{"yr":97,"age":28,"ssb":16.9},{"yr":97,"age":29,"ssb":14.8},{"yr":97,"age":30,"ssb":86},
{"yr":99,"age":1,"ssb":0},{"yr":99,"age":2,"ssb":0},{"yr":99,"age":3,"ssb":0},{"yr":99,"age":4,"ssb":0.3},{"yr":99,"age":5,"ssb":0.9},{"yr":99,"age":6,"ssb":2.1},{"yr":99,"age":7,"ssb":4.5},{"yr":99,"age":8,"ssb":9.0},{"yr":99,"age":9,"ssb":13.5},{"yr":99,"age":10,"ssb":23.3},{"yr":99,"age":11,"ssb":29.2},{"yr":99,"age":12,"ssb":35.0},{"yr":99,"age":13,"ssb":42.8},{"yr":99,"age":14,"ssb":48.6},{"yr":99,"age":15,"ssb":32.3},{"yr":99,"age":16,"ssb":33.5},{"yr":99,"age":17,"ssb":33.5},{"yr":99,"age":18,"ssb":32.3},{"yr":99,"age":19,"ssb":29.9},{"yr":99,"age":20,"ssb":26.3},{"yr":99,"age":21,"ssb":22.7},{"yr":99,"age":22,"ssb":20.3},{"yr":99,"age":23,"ssb":22.4},{"yr":99,"age":24,"ssb":19.4},{"yr":99,"age":25,"ssb":16.4},{"yr":99,"age":26,"ssb":15.0},{"yr":99,"age":27,"ssb":13.5},{"yr":99,"age":28,"ssb":15.6},{"yr":99,"age":29,"ssb":13.6},{"yr":99,"age":30,"ssb":76}
]},
"layer": [
 {
  "data": {"name": "ssb"},
  "mark": {"type": "area", "fillOpacity": 0.76, "interpolate": "linear"},
  "encoding": {
   "x": {"field": "yr", "type": "quantitative", "title": "Year", "scale": {"domain": [-3.9, 103.9], "nice": false, "zero": false}},
   "y": {"field": "ssb", "type": "quantitative", "stack": "zero", "title": "Spawning Stock Biomass (millions of lbs)", "scale": {"domain": [-42.8, 898], "nice": false, "zero": false}},
   "color": {"field": "age", "type": "quantitative", "title": "Age", "scale": {"domain": [1, 15.5, 30], "range": ["#000080", "#00FF00", "#FF0000"], "interpolate": "lab"}, "legend": {"orient": "none", "legendX": 998, "legendY": 243, "direction": "vertical", "gradientLength": 158, "gradientThickness": 32, "gradientStrokeWidth": 0, "values": [10, 20, 30], "titleFontSize": 21, "titleFontWeight": "normal", "titleColor": "black", "labelFontSize": 16, "labelColor": "#4D4D4D", "titlePadding": 6, "labelOffset": 5}},
   "order": {"field": "age", "type": "quantitative", "sort": "descending"},
   "detail": {"field": "age", "type": "quantitative"}
  }
 },
 {
  "data": {"values": [{"ref": 707}]},
  "mark": {"type": "rule", "color": "#FF0000", "strokeDash": [9, 7], "strokeWidth": 1.8},
  "encoding": {"y": {"field": "ref", "type": "quantitative", "title": "Spawning Stock Biomass (millions of lbs)", "scale": {"domain": [-42.8, 898], "nice": false, "zero": false}}}
 },
 {
  "data": {"values": [{"ref": 213}]},
  "mark": {"type": "rule", "color": "black", "strokeDash": [9, 7], "strokeWidth": 1.8},
  "encoding": {"y": {"field": "ref", "type": "quantitative", "title": "Spawning Stock Biomass (millions of lbs)", "scale": {"domain": [-42.8, 898], "nice": false, "zero": false}}}
 }
]
}
